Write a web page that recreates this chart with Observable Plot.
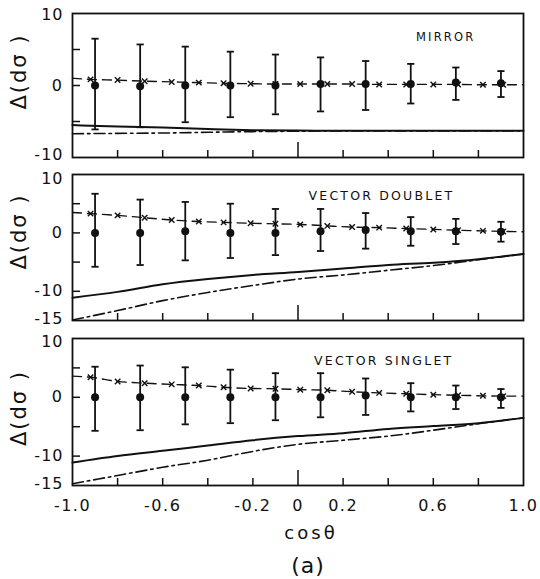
<!DOCTYPE html>
<html>
<head>
<meta charset="utf-8">
<script src="https://cdn.jsdelivr.net/npm/d3@7"></script>
<script src="https://cdn.jsdelivr.net/npm/@observablehq/plot@0.6"></script>
<style>
  body { margin: 0; background: #fff; }
  #chart { position: relative; width: 540px; height: 579px; font-family: "DejaVu Sans", sans-serif; color: #111; }
  #chart svg { position: absolute; left: 0; display: block; }
  #cap { position: absolute; left: 0; width: 616px; top: 553px; text-align: center; font-size: 22px; line-height: 26px; letter-spacing: 1px; }
</style>
</head>
<body>
<div id="chart"><div id="cap">(a)</div></div>
<script>
// ---- data ----
const panelTitles = ["MIRROR", "VECTOR DOUBLET", "VECTOR SINGLET"];
const yAxisTitle = "Δ(dσ )";
const xAxisTitle = "cosθ";

const xTickValues = [-1, -0.6, -0.2, 0, 0.2, 0.6, 1];
const xTickLabels = ["-1.0", "-0.6", "-0.2", "0", "0.2", "0.6", "1.0"];
const xMinorTicks = [-0.8, -0.6, -0.4, -0.2, 0.2, 0.4, 0.6, 0.8];
const xMajorTick = [0];

const yLabels1 = [10, 0, -10];
const yMinor1 = [5, 0, -5];
const yLabels23 = [10, 0, -10, -15];
const yMinor23 = [5, 0, -5, -10];

// data points (filled circles with error bars)
const xPts = [-0.9, -0.7, -0.5, -0.3, -0.1, 0.1, 0.3, 0.5, 0.7, 0.9];

const mirrorPts = [0, -0.1, 0, 0, 0, 0.2, 0.2, 0.2, 0.4, 0.3];
const mirrorHi  = [6.5, 5.7, 5.4, 4.7, 4.3, 3.9, 3.4, 3.0, 2.5, 2.0];
const mirrorLo  = [-6.1, -5.8, -5.1, -4.4, -4.0, -3.6, -3.4, -2.5, -2.0, -1.6];

const doubletPts = [0, 0, 0.3, 0, 0, 0.3, 0.5, 0.3, 0.3, 0.2];
const doubletHi  = [6.7, 5.7, 5.3, 5.0, 4.1, 4.1, 3.4, 2.7, 2.4, 1.9];
const doubletLo  = [-5.8, -5.5, -4.7, -4.3, -3.8, -3.1, -2.7, -2.2, -1.9, -1.5];

const singletPts = [0, 0, 0, 0, 0, 0, 0.3, 0, 0, 0];
const singletHi  = [5.2, 5.4, 5.1, 4.7, 4.1, 4.1, 3.2, 2.4, 2.0, 1.4];
const singletLo  = [-5.7, -5.6, -4.6, -4.4, -3.9, -3.4, -3.0, -2.4, -2.0, -1.8];

// dashed curve with x marks
const dashedX = [-1, -0.92, -0.80, -0.68, -0.56, -0.44, -0.33, -0.21, -0.10, 0.01, 0.13, 0.24, 0.36, 0.48, 0.60, 0.71, 0.82, 0.91, 1];
const mirrorDashed  = [1.0, 0.85, 0.75, 0.6, 0.5, 0.4, 0.3, 0.25, 0.2, 0.2, 0.2, 0.2, 0.15, 0.15, 0.15, 0.15, 0.1, 0.1, 0.1];
const doubletDashed = [3.5, 3.3, 3.0, 2.6, 2.2, 1.95, 1.8, 1.65, 1.55, 1.45, 1.2, 1.0, 0.9, 0.75, 0.6, 0.45, 0.35, 0.25, 0.2];
const singletDashed = [3.6, 3.4, 2.7, 2.4, 2.2, 2.0, 1.7, 1.5, 1.45, 1.3, 1.2, 0.95, 0.75, 0.6, 0.45, 0.35, 0.25, 0.2, 0.2];

// solid and dash-dot curves
const curveX = [-1, -0.8, -0.6, -0.4, -0.2, 0, 0.2, 0.4, 0.6, 0.8, 1];
const mirrorSolid    = [-5.5, -5.7, -5.85, -6.05, -6.2, -6.25, -6.3, -6.3, -6.3, -6.3, -6.3];
const mirrorDashDot  = [-6.7, -6.65, -6.6, -6.5, -6.4, -6.35, -6.3, -6.3, -6.3, -6.3, -6.3];
const doubletSolid   = [-11.1, -10.1, -8.8, -7.9, -7.2, -6.7, -6.1, -5.5, -5.1, -4.5, -3.6];
const doubletDashDot = [-14.9, -13.3, -11.6, -10.2, -9.0, -7.9, -7.2, -6.4, -5.6, -4.6, -3.6];
const singletSolid   = [-11.1, -10.0, -9.1, -8.2, -7.3, -6.6, -6.1, -5.4, -4.9, -4.4, -3.5];
const singletDashDot = [-14.7, -13.3, -11.9, -10.7, -9.2, -8.0, -7.3, -6.6, -5.6, -4.5, -3.5];

// ---- drawing ----
const ink = "#111";
const FONT = '"DejaVu Sans", sans-serif';
const xLabelMap = new Map(xTickValues.map((v, i) => [v, xTickLabels[i]]));
const capSymbol = {
  draw(ctx, size) { const r = Math.sqrt(size / Math.PI); ctx.moveTo(-r, 0); ctx.lineTo(r, 0); }
};
const W = 540, ML = 72, MR = 17;
const frameW = W - ML - MR;

function panel(cfg) {
  const frameH = cfg.height - cfg.marginTop - cfg.marginBottom;
  const pts = xPts.map((x, i) => ({x, y: cfg.pts[i], hi: cfg.hi[i], lo: cfg.lo[i]}));
  const dashed = dashedX.map((x, i) => ({x, y: cfg.dashed[i]}));
  const crosses = dashed.slice(1, -1);
  const solid = curveX.map((x, i) => ({x, y: cfg.solid[i]}));
  const dashdot = curveX.map((x, i) => ({x, y: cfg.dashdot[i]}));
  const [yMin, yMax] = cfg.yDomain;
  const yLab = {frameAnchor: "left", dx: -9, textAnchor: "end", lineAnchor: "middle", fontSize: 16, fill: ink, text: d => String(d), y: d => d};
  const marks = [
    Plot.frame({stroke: ink, strokeWidth: 1.8}),
    Plot.tickX(xMinorTicks, {x: d => d, insetTop: frameH - 7, stroke: ink, strokeWidth: 1.5}),
    Plot.tickX(xMajorTick, {x: d => d, insetTop: frameH - 15, stroke: ink, strokeWidth: 1.5}),
    Plot.tickY(cfg.yMinor, {y: d => d, insetRight: frameW - 8, stroke: ink, strokeWidth: 1.5}),
    Plot.text(cfg.yLabels.filter(d => d === yMax), {...yLab, dy: cfg.topNudge}),
    Plot.text(cfg.yLabels.filter(d => d !== yMax && d !== yMin), yLab),
    Plot.text(cfg.yLabels.filter(d => d === yMin), {...yLab, dy: -cfg.bottomNudge}),
    Plot.line(solid, {x: "x", y: "y", stroke: ink, strokeWidth: 2, curve: "monotone-x"}),
    Plot.line(dashdot, {x: "x", y: "y", stroke: ink, strokeWidth: 1.6, strokeDasharray: "11,4,2.5,4", curve: "monotone-x"}),
    Plot.line(dashed, {x: "x", y: "y", stroke: ink, strokeWidth: 1.4, strokeDasharray: "9,6", curve: "monotone-x"}),
    Plot.dot(crosses, {x: "x", y: "y", symbol: "times", r: 2.6, stroke: ink, strokeWidth: 1.4}),
    Plot.ruleX(pts, {x: "x", y1: "lo", y2: "hi", stroke: ink, strokeWidth: 1.8}),
    Plot.dot(pts, {x: "x", y: "hi", symbol: capSymbol, r: 3.6, stroke: ink, strokeWidth: 1.8, fill: "none"}),
    Plot.dot(pts, {x: "x", y: "lo", symbol: capSymbol, r: 3.6, stroke: ink, strokeWidth: 1.8, fill: "none"}),
    Plot.dot(pts, {x: "x", y: "y", r: 4, fill: ink, stroke: "none"}),
    Plot.text([cfg.title], {x: cfg.tx, y: cfg.ty, fontSize: cfg.titleSize, fill: ink}),
    Plot.text([yAxisTitle], {frameAnchor: "left", textAnchor: "middle", lineAnchor: "middle", dx: -53, dy: cfg.labelDy, rotate: -90, fontSize: 21, fill: ink})
  ];
  if (cfg.showX) {
    marks.push(Plot.text(xTickValues, {x: d => d, text: d => xLabelMap.get(d), frameAnchor: "bottom", textAnchor: "middle", lineAnchor: "middle", dy: 20, fontSize: 16, fill: ink}));
    marks.push(Plot.text([xAxisTitle], {frameAnchor: "bottom", textAnchor: "middle", lineAnchor: "middle", dx: 13, dy: 48, fontSize: 18, fill: ink}));
  }
  const svg = Plot.plot({
    width: W, height: cfg.height,
    marginLeft: ML, marginRight: MR, marginTop: cfg.marginTop, marginBottom: cfg.marginBottom,
    style: {fontFamily: FONT, fontSize: "16px", color: ink, background: "transparent", overflow: "visible"},
    x: {domain: [-1, 1], axis: null},
    y: {domain: cfg.yDomain, axis: null},
    marks
  });
  // letter spacing to mimic the wide lettering of the original
  svg.querySelectorAll("text").forEach(t => {
    const s = t.textContent;
    if (panelTitles.includes(s)) t.style.letterSpacing = "2.2px";
    else if (s === yAxisTitle) t.style.letterSpacing = "2px";
    else if (s === xAxisTitle) t.style.letterSpacing = "3px";
    else if (xTickLabels.includes(s)) t.style.letterSpacing = "1.5px";
    else t.style.letterSpacing = "1px";
  });
  svg.style.top = cfg.top + "px";
  return svg;
}

const chart = document.getElementById("chart");
chart.appendChild(panel({
  title: panelTitles[0], tx: 0.655, ty: 6.7, titleSize: 11.5,
  yDomain: [-10, 10], yLabels: yLabels1, yMinor: yMinor1, topNudge: 1, bottomNudge: 3,
  pts: mirrorPts, hi: mirrorHi, lo: mirrorLo, dashed: mirrorDashed, solid: mirrorSolid, dashdot: mirrorDashDot,
  top: 0, height: 165, marginTop: 13, marginBottom: 8, labelDy: -14, showX: false
}));
chart.appendChild(panel({
  title: panelTitles[1], tx: 0.37, ty: 6.3, titleSize: 12.5,
  yDomain: [-15, 10], yLabels: yLabels23, yMinor: yMinor23, topNudge: 4, bottomNudge: 2,
  pts: doubletPts, hi: doubletHi, lo: doubletLo, dashed: doubletDashed, solid: doubletSolid, dashdot: doubletDashDot,
  top: 165, height: 163, marginTop: 9, marginBottom: 8, labelDy: -16, showX: false
}));
chart.appendChild(panel({
  title: panelTitles[2], tx: 0.38, ty: 6.1, titleSize: 12.5,
  yDomain: [-15, 10], yLabels: yLabels23, yMinor: yMinor23, topNudge: 3, bottomNudge: 2,
  pts: singletPts, hi: singletHi, lo: singletLo, dashed: singletDashed, solid: singletSolid, dashdot: singletDashDot,
  top: 328, height: 251, marginTop: 10, marginBottom: 94, labelDy: -4, showX: true
}));
</script>
</body>
</html>
